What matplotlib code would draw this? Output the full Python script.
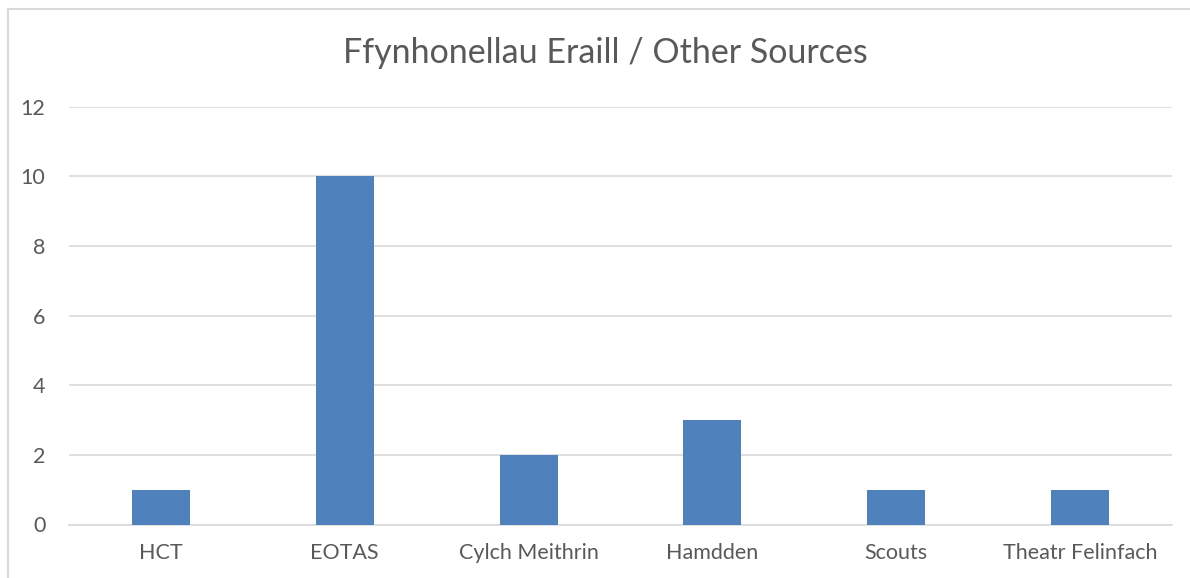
import matplotlib
matplotlib.use("Agg")
import matplotlib.pyplot as plt
from matplotlib.patches import Rectangle

# data
categories = ['HCT', 'EOTAS', 'Cylch Meithrin', 'Hamdden', 'Scouts', 'Theatr Felinfach']
values = [1, 10, 2, 3, 1, 1]
yticks = [0, 2, 4, 6, 8, 10, 12]

plt.rcParams['font.family'] = ['Lato', 'DejaVu Sans']
grey = '#595959'

fig = plt.figure(figsize=(11.9, 5.78), dpi=100)
ax = fig.add_axes([69 / 1190, 1 - 524.5 / 578, (1172 - 69) / 1190, (524.5 - 106.7) / 578])

# outer chart border (light grey frame)
fig.patches.append(Rectangle((8 / 1190, -0.05), 1.1, 1 - 9 / 578 + 0.05,
                             transform=fig.transFigure, fill=False,
                             edgecolor='#d9d9d9', linewidth=1.5))

x = range(len(categories))
ax.bar(x, values, width=0.315, color='#4f81bd', zorder=3)

ax.set_xlim(-0.5, len(categories) - 0.5)
ax.set_ylim(0, 12)
ax.set_yticks(yticks)
ax.set_xticks(list(x))
ax.set_xticklabels(categories)

ax.grid(axis='y', color='#d9d9d9', linewidth=1.2, zorder=0)
for s in ['top', 'right', 'left']:
    ax.spines[s].set_visible(False)
ax.spines['bottom'].set_color('#d9d9d9')
ax.spines['bottom'].set_linewidth(1.2)
ax.tick_params(axis='both', length=0, colors=grey, labelsize=15.5)
ax.tick_params(axis='y', pad=17)
ax.tick_params(axis='x', pad=13)

fig.text(605.5 / 1190, 1 - 53 / 578, 'Ffynhonellau Eraill / Other Sources', ha='center', va='center',
         fontsize=24.5, color=grey)

fig.savefig('out.png', dpi=100)
